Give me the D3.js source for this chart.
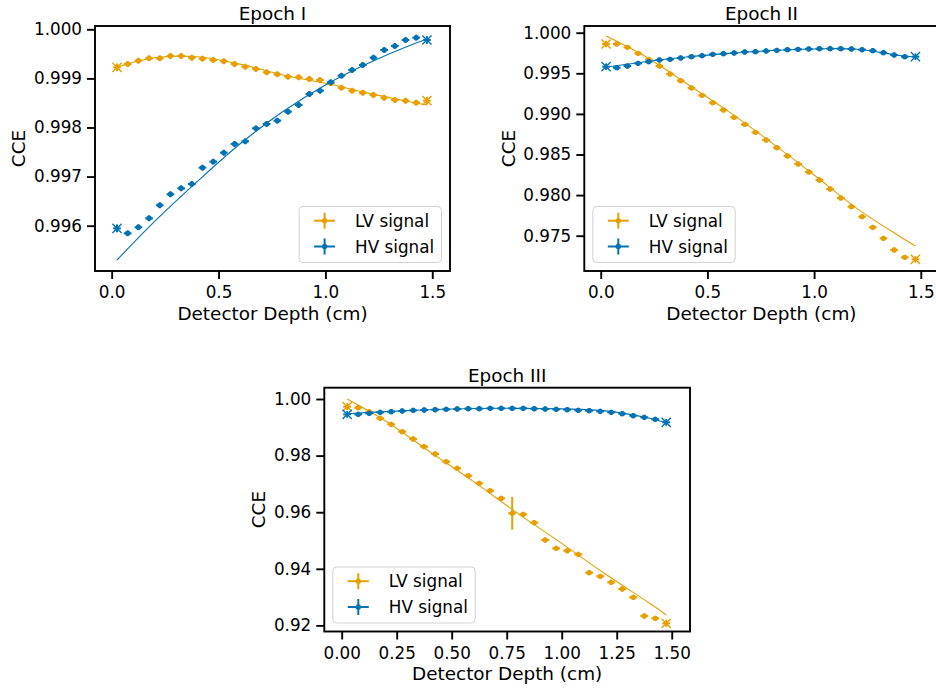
<!DOCTYPE html>
<html><head><meta charset="utf-8">
<script src="https://cdn.jsdelivr.net/npm/d3@7"></script>
<style>body{margin:0;background:#fff} text{font-family:"DejaVu Sans",sans-serif;fill:#000}</style>
</head><body><svg id="c" width="936" height="691"></svg>
<script>
// ---------------- DATA ----------------
const depth = [0.025,0.075,0.125,0.175,0.225,0.275,0.325,0.375,0.425,0.475,0.525,0.575,0.625,0.675,0.725,
               0.775,0.825,0.875,0.925,0.975,1.025,1.075,1.125,1.175,1.225,1.275,1.325,1.375,1.425,1.475];
const xErr = 0.018;
const seriesNames = ["LV signal","HV signal"];

// Epoch I
const lv1 = [0.999225,0.999293,0.999361,0.999409,0.999409,0.999456,0.999456,0.999422,0.999402,0.999375,0.999348,0.999293,0.999239,0.999191,0.999124,
             0.999083,0.999035,0.999022,0.998988,0.998967,0.998900,0.998811,0.998750,0.998709,0.998662,0.998607,0.998560,0.998546,0.998506,0.998546];
const hv1 = [0.995946,0.995845,0.995967,0.996150,0.996415,0.996639,0.996761,0.996849,0.997182,0.997304,0.997487,0.997664,0.997718,0.997983,0.998071,
             0.998139,0.998322,0.998458,0.998682,0.998750,0.998920,0.999056,0.999171,0.999273,0.999422,0.999578,0.999660,0.999782,0.999830,0.999782];
const yerr1 = [0.00008,0.00006,0.00006,0.00006,0.00006,0.00006,0.00006,0.00006,0.00006,0.00006,0.00006,0.00006,0.00006,0.00006,0.00006,
               0.00006,0.00006,0.00006,0.00006,0.00006,0.00006,0.00006,0.00006,0.00006,0.00006,0.00006,0.00006,0.00006,0.00006,0.00008];
// Epoch II
const lv2 = [0.998608,0.998608,0.998198,0.997459,0.996720,0.995899,0.994914,0.994093,0.993190,0.992287,0.991383,0.990480,0.989578,0.988715,0.987730,
             0.986786,0.985841,0.984815,0.983830,0.982845,0.981860,0.980751,0.979643,0.978575,0.977344,0.976031,0.974676,0.973239,0.972336,0.972090];
const hv2 = [0.995817,0.995694,0.995899,0.996228,0.996433,0.996638,0.996720,0.996884,0.997048,0.997171,0.997336,0.997418,0.997500,0.997623,0.997664,
             0.997746,0.997829,0.997910,0.997952,0.997993,0.998033,0.998033,0.998033,0.997993,0.997910,0.997787,0.997541,0.997254,0.997048,0.997048];
const yerr2 = [0.0004,0.0003,0.0003,0.0003,0.0003,0.0003,0.0003,0.0003,0.0003,0.0003,0.0003,0.0003,0.0003,0.0003,0.0003,
               0.0003,0.0003,0.0003,0.0003,0.0003,0.0003,0.0003,0.0003,0.0003,0.0003,0.0003,0.0003,0.0003,0.0003,0.0004];
// Epoch III
const lv3 = [0.997290,0.996937,0.995523,0.993169,0.991049,0.988457,0.985866,0.983157,0.980565,0.977856,0.975501,0.972908,0.970201,0.967608,0.964901,
             0.959601,0.959247,0.956300,0.950177,0.947233,0.946405,0.945113,0.938633,0.937339,0.935219,0.932862,0.929919,0.923322,0.922498,0.920731];
const hv3 = [0.994582,0.994582,0.994935,0.995289,0.995524,0.995760,0.995996,0.996113,0.996231,0.996349,0.996466,0.996584,0.996584,0.996702,0.996702,
             0.996702,0.996702,0.996584,0.996466,0.996349,0.996231,0.995996,0.995877,0.995642,0.995289,0.994818,0.994111,0.993522,0.992816,0.991756];
const yerrLV3 = [0.0012,0.0009,0.0009,0.0009,0.0009,0.0009,0.0009,0.0009,0.0009,0.0009,0.0009,0.0009,0.0009,0.0009,0.0009,
                 0.0058,0.0009,0.0009,0.0009,0.0009,0.0009,0.0009,0.0009,0.0009,0.0009,0.0009,0.0009,0.0009,0.0009,0.0012];
const yerrHV3 = [0.0012,0.0009,0.0009,0.0009,0.0009,0.0009,0.0009,0.0009,0.0009,0.0009,0.0009,0.0009,0.0009,0.0009,0.0009,
                 0.0009,0.0009,0.0009,0.0009,0.0009,0.0009,0.0009,0.0009,0.0009,0.0009,0.0009,0.0009,0.0009,0.0009,0.0012];

// fitted curves
const fitDepth = [0.025,0.2,0.4,0.6,0.8,1.0,1.2,1.4,1.475];
const fitLV1 = [0.99923,0.99942,0.99944,0.99929,0.99907,0.99890,0.99870,0.99852,0.99846];
const fitHV1 = [0.995301,0.996082,0.996897,0.997664,0.998322,0.998866,0.999307,0.999680,0.999796];
const fitLV2 = [0.999594,0.997213,0.993765,0.990275,0.986457,0.982475,0.978370,0.974940,0.973731];
const fitHV2 = [0.99575,0.99640,0.99700,0.99745,0.99780,0.99800,0.99797,0.99720,0.99700];
const fitLV3 = [1.0000,0.99223,0.98139,0.97079,0.95960,0.94900,0.93805,0.92780,0.92368];
const fitHV3 = [0.99480,0.99555,0.99620,0.99662,0.99670,0.99650,0.99580,0.99320,0.99160];

// ticks
const xTicksA = [0,0.5,1.0,1.5];
const xTicksB = [0,0.25,0.5,0.75,1.0,1.25,1.5];
const yTicks1 = [0.996,0.997,0.998,0.999,1.000];
const yTicks2 = [0.975,0.980,0.985,0.990,0.995,1.000];
const yTicks3 = [0.92,0.94,0.96,0.98,1.00];
const titles = ["Epoch I","Epoch II","Epoch III"];

// ---------------- DRAW ----------------
const C_LV = "#e69f00", C_HV = "#0072b2";
const svg = d3.select("#c");
const FT = 16.8, FL = 18.4;

const panels = [
  {title:titles[0], left:95, right:450, top:26, bottom:271, xd:[-0.078,1.583], yd:[0.995077,1.0000672],
   xt:xTicksA, xf:".1f", yt:yTicks1, yf:".3f", lv:lv1, hv:hv1, eLV:yerr1, eHV:yerr1, fLV:fitLV1, fHV:fitHV1, leg:"lr", yl:76.5},
  {title:titles[1], left:584.3, right:938.5, top:26, bottom:271, xd:[-0.077,1.583], yd:[0.970653,1.000825],
   xt:xTicksA, xf:".1f", yt:yTicks2, yf:".3f", lv:lv2, hv:hv2, eLV:yerr2, eHV:yerr2, fLV:fitLV2, fHV:fitHV2, leg:"ll", yl:76.3},
  {title:titles[2], left:324.3, right:690, top:387.7, bottom:631.5, xd:[-0.079,1.583], yd:[0.917845,1.003993],
   xt:xTicksB, xf:".2f", yt:yTicks3, yf:".2f", lv:lv3, hv:hv3, eLV:yerrLV3, eHV:yerrHV3, fLV:fitLV3, fHV:fitHV3, leg:"ll", yl:66}
];

panels.forEach(p => {
  const g = svg.append("g");
  const x = d3.scaleLinear().domain(p.xd).range([p.left, p.right]);
  const y = d3.scaleLinear().domain(p.yd).range([p.bottom, p.top]);

  const line = d3.line().x((d,i)=>x(fitDepth[i])).y(d=>y(d)).curve(d3.curveCatmullRom.alpha(0.5));
  const drawSeries = (vals, errs, fit, col) => {
    g.append("path").attr("d", line(fit)).attr("fill","none").attr("stroke",col).attr("stroke-width",1.1);
    const s = g.append("g").attr("stroke", col).attr("stroke-width", 2);
    depth.forEach((d,i) => {
      const cx = x(d), cy = y(vals[i]);
      s.append("line").attr("x1", x(d-xErr)).attr("x2", x(d+xErr)).attr("y1", cy).attr("y2", cy);
      s.append("line").attr("x1", cx).attr("x2", cx).attr("y1", y(vals[i]-errs[i])).attr("y2", y(vals[i]+errs[i]));
      if (i === 0 || i === depth.length-1) {
        const r = 4.6;
        s.append("path").attr("d", `M${cx-r},${cy-r}L${cx+r},${cy+r}M${cx-r},${cy+r}L${cx+r},${cy-r}`)
          .attr("stroke-width", 1.4).attr("fill","none");
      } else {
        g.append("circle").attr("cx", cx).attr("cy", cy).attr("r", 2.7).attr("fill", col);
      }
    });
  };
  drawSeries(p.lv, p.eLV, p.fLV, C_LV);
  drawSeries(p.hv, p.eHV, p.fHV, C_HV);

  g.append("rect").attr("x", p.left).attr("y", p.top).attr("width", p.right-p.left).attr("height", p.bottom-p.top)
    .attr("fill","none").attr("stroke","#000").attr("stroke-width",1.9);

  const ax = g.append("g").attr("transform",`translate(0,${p.bottom})`)
    .call(d3.axisBottom(x).tickValues(p.xt).tickFormat(d3.format(p.xf)).tickSize(8).tickPadding(7.5));
  const ay = g.append("g").attr("transform",`translate(${p.left},0)`)
    .call(d3.axisLeft(y).tickValues(p.yt).tickFormat(d3.format(p.yf)).tickSize(8).tickPadding(5));
  [ax, ay].forEach(a => {
    a.select(".domain").remove();
    a.selectAll(".tick line").attr("stroke","#000").attr("stroke-width",1.9);
    a.selectAll(".tick text").attr("font-size", FT).attr("font-family","DejaVu Sans").attr("fill","#000");
  });

  const mid = (p.left + p.right) / 2;
  g.append("text").attr("x", mid).attr("y", p.bottom + 48.5).attr("text-anchor","middle")
    .attr("font-size", FL).text("Detector Depth (cm)");
  g.append("text").attr("transform", `translate(${p.left - p.yl},${(p.top+p.bottom)/2}) rotate(-90)`)
    .attr("dy","0.36em").attr("text-anchor","middle").attr("font-size", FL).text("CCE");
  g.append("text").attr("x", mid).attr("y", p.top - 6).attr("text-anchor","middle")
    .attr("font-size", FL).text(p.title);

  const lw = 142.4, lh = 56, inset = 8.5;
  const lx = p.leg === "lr" ? p.right - inset - lw : p.left + inset;
  const ly = p.bottom - inset - lh;
  const L = g.append("g").attr("transform", `translate(${lx},${ly})`);
  L.append("rect").attr("width", lw).attr("height", lh).attr("rx", 4).attr("fill","#fff").attr("fill-opacity",0.8)
    .attr("stroke","#d0d0d0").attr("stroke-width",1);
  [[seriesNames[0], C_LV], [seriesNames[1], C_HV]].forEach(([name, col], k) => {
    const cy = 14.2 + k*25.8, hx = 25.5;
    L.append("line").attr("x1", hx-10.5).attr("x2", hx+10.5).attr("y1", cy).attr("y2", cy).attr("stroke", col).attr("stroke-width", 2);
    L.append("line").attr("x1", hx).attr("x2", hx).attr("y1", cy-8).attr("y2", cy+8).attr("stroke", col).attr("stroke-width", 2);
    L.append("circle").attr("cx", hx).attr("cy", cy).attr("r", 2.7).attr("fill", col);
    L.append("text").attr("x", 56).attr("y", cy).attr("dy","0.36em").attr("font-size", 16.8).text(name);
  });
});
</script></body></html>
